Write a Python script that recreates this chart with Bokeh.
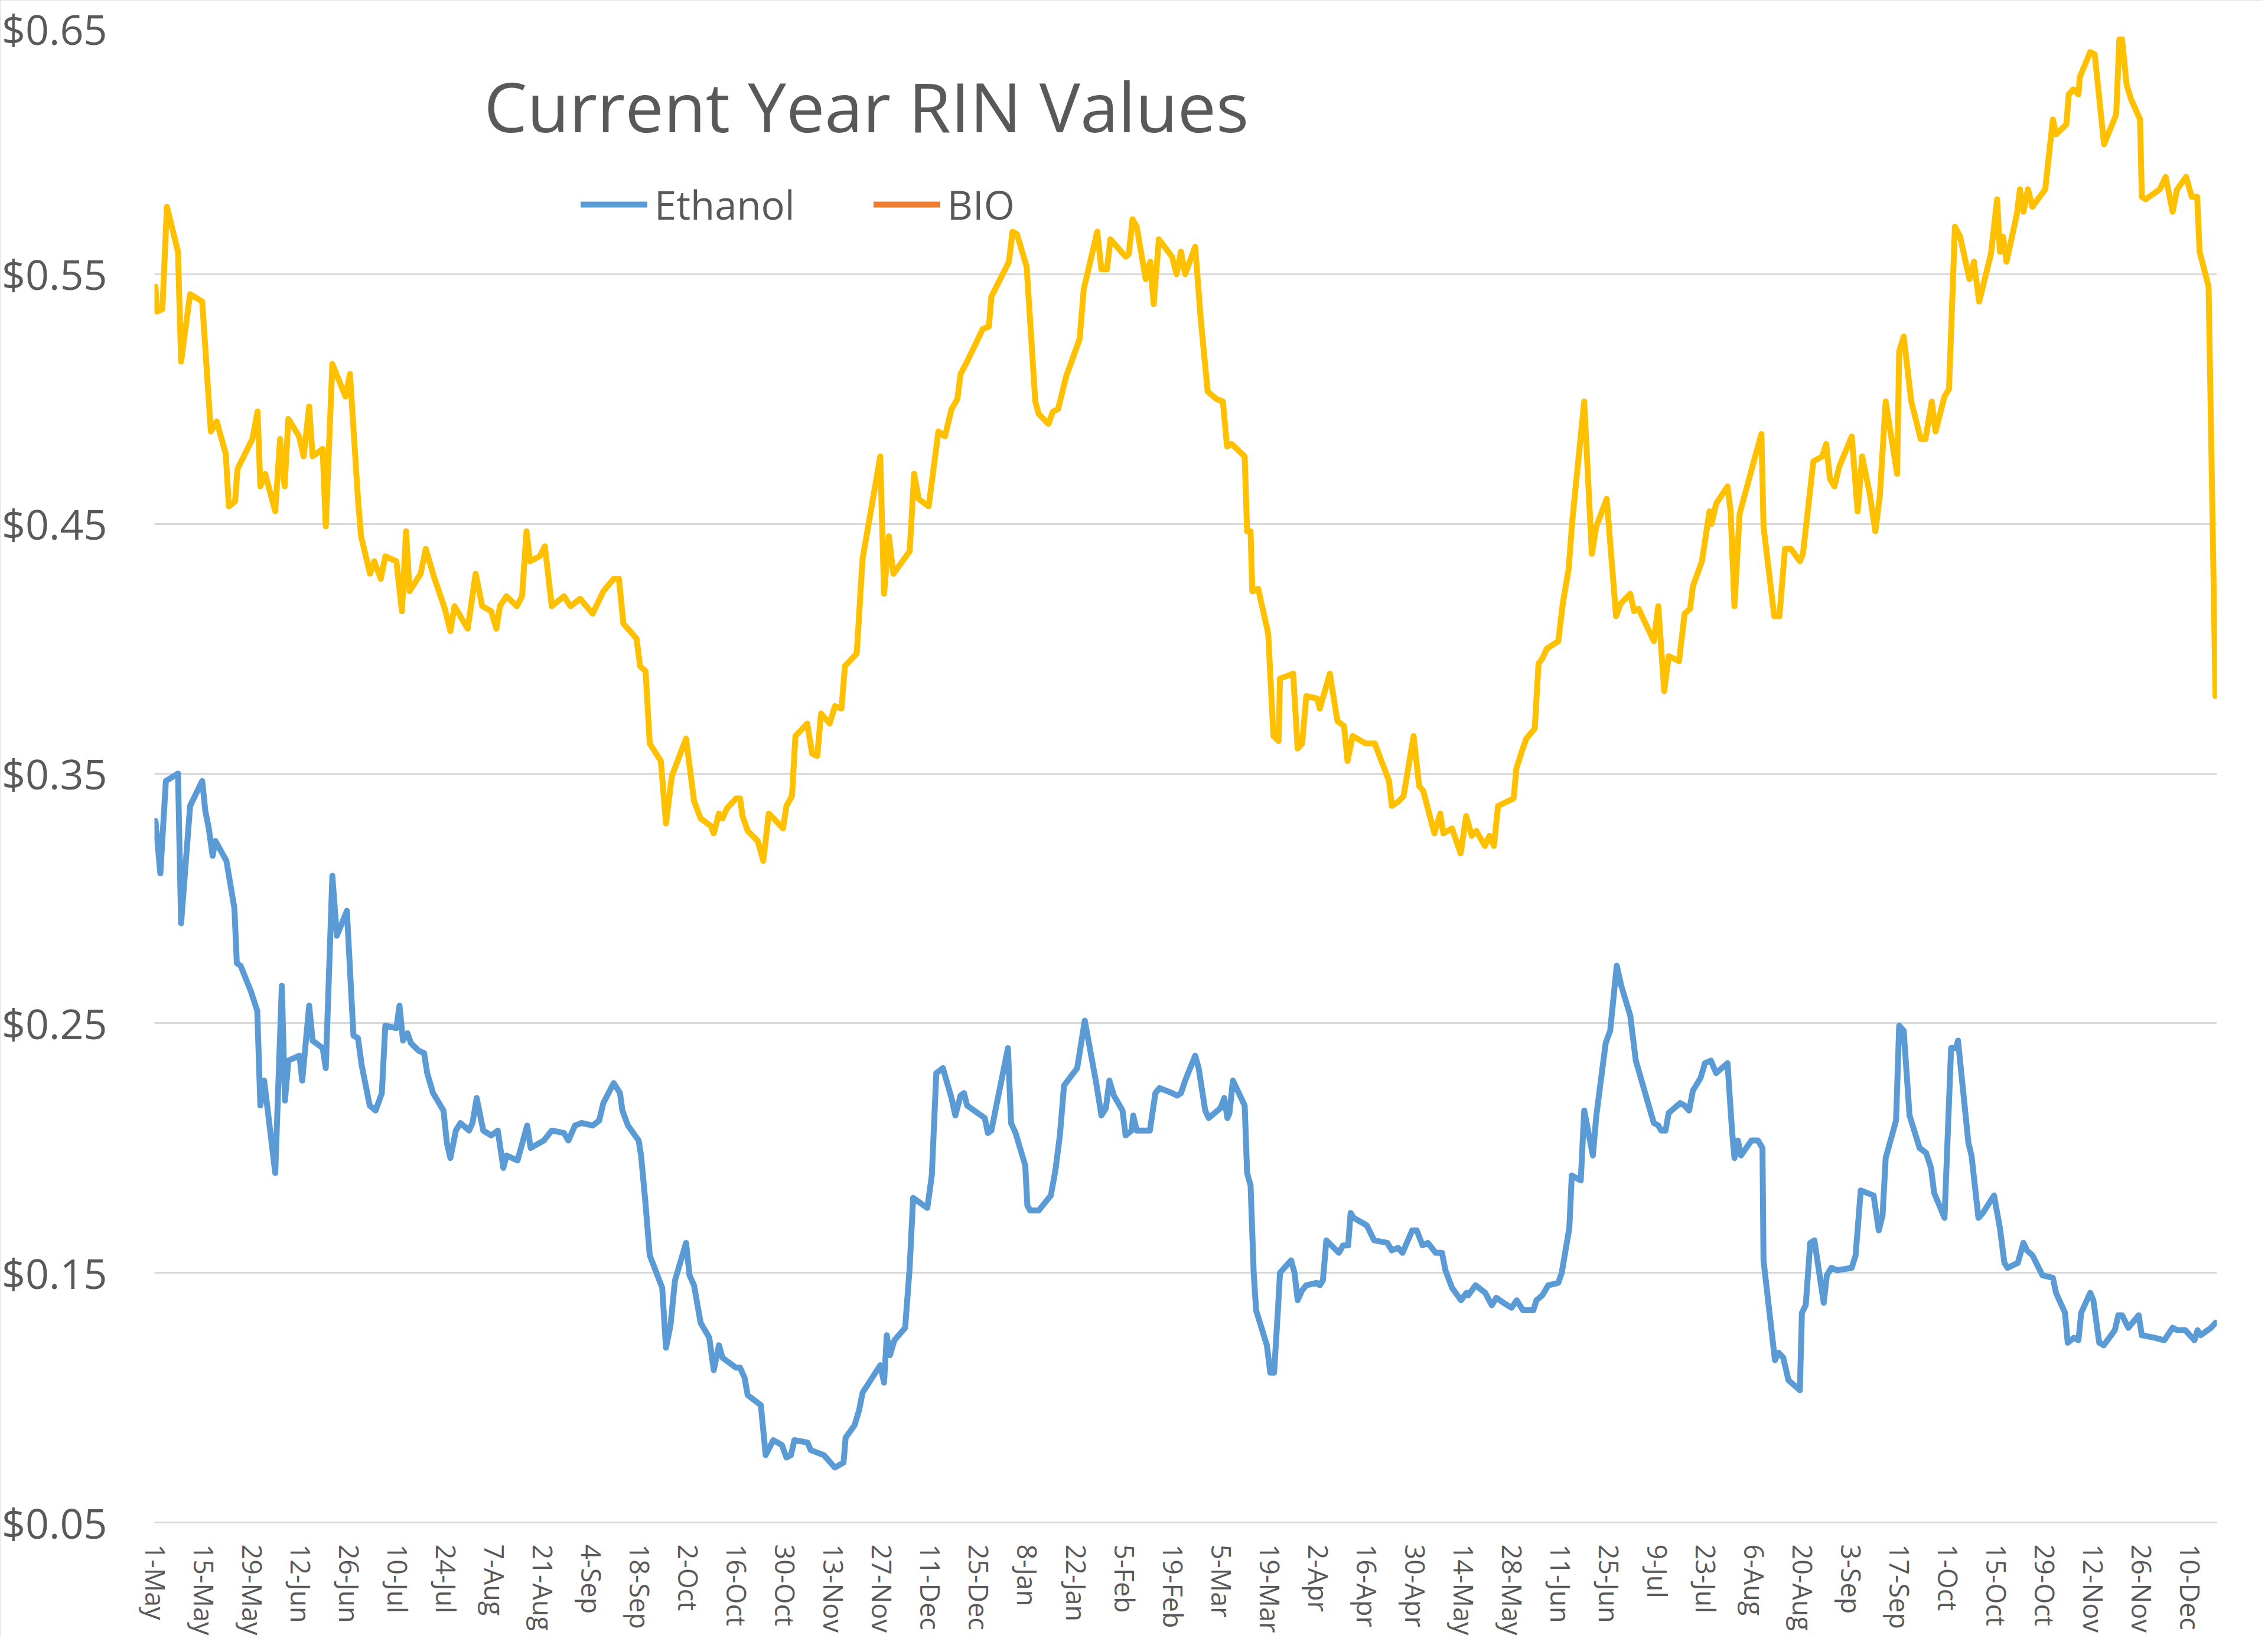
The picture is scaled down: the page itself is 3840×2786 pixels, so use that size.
from bokeh.plotting import figure
from bokeh.models import (Range1d, FixedTicker, NumeralTickFormatter, Legend, LegendItem,
                          Label)
from bokeh.embed import file_html
from bokeh.resources import INLINE

# ---- data (x = days since 1-May of the first year) ----
tick_days = [14 * k for k in range(43)]
tick_labels = ["1-May", "15-May", "29-May", "12-Jun", "26-Jun", "10-Jul", "24-Jul", "7-Aug",
               "21-Aug", "4-Sep", "18-Sep", "2-Oct", "16-Oct", "30-Oct", "13-Nov", "27-Nov",
               "11-Dec", "25-Dec", "8-Jan", "22-Jan", "5-Feb", "19-Feb", "5-Mar", "19-Mar",
               "2-Apr", "16-Apr", "30-Apr", "14-May", "28-May", "11-Jun", "25-Jun", "9-Jul",
               "23-Jul", "6-Aug", "20-Aug", "3-Sep", "17-Sep", "1-Oct", "15-Oct", "29-Oct",
               "12-Nov", "26-Nov", "10-Dec"]

bio_day = [0, 0.4, 2, 3.3, 6.5, 7.4, 10, 13.5, 16, 17.7, 20.3, 21.2, 23, 23.7, 28, 29.5, 30.3,
           31.7, 34.6, 36, 37.3, 38.4, 41.5, 42.8, 44.4, 45.4, 48.3, 49.2, 51.1, 54.9, 56.2,
           58.5, 59.4, 62, 63.2, 65.1, 66.4, 69.6, 71.2, 72.4, 73.4, 76.6, 78.1, 80.4, 83.6,
           85.2, 86.4, 90.2, 92.5, 94.4, 97, 98.5, 99.5, 101.4, 104.4, 105.9, 107.2, 108.2,
           111, 112.5, 113.5, 114.5, 118, 119.9, 122.7, 126.3, 129.4, 132.4, 133.9, 135.2,
           139, 140, 141.6, 142.8, 146, 147.5, 149.2, 153.3, 155.6, 157.5, 160.4, 161.3, 162.8,
           163.8, 165.1, 167.7, 168.9, 169.6, 171.1, 174, 175.6, 177.2, 181.3, 182.3, 183.9,
           184.9, 188.3, 189.7, 191.2, 192.3, 194.8, 196.3, 198.2, 199.2, 202.6, 204.3, 209.4,
           210.5, 211.9, 213.2, 217.9, 219.2, 220.5, 223.4, 224.7, 226.2, 228.1, 230, 231.7,
           232.6, 234.5, 239, 240.8, 241.5, 246.6, 247.6, 248.9, 251.7, 254.2, 255.2, 258,
           259.3, 260.8, 263.1, 267, 268.2, 272.1, 273.3, 274.9, 275.9, 280.3, 281.2, 282.3,
           283.5, 286.1, 287.4, 288.4, 289.9, 293.7, 295, 296.3, 297.5, 300.4, 302, 304, 306.5,
           308.4, 309.6, 310.9, 314.7, 315.4, 316.4, 316.9, 318.6, 321.5, 323, 324.5, 324.9,
           328.7, 330, 331.3, 332.5, 335.7, 336.4, 339.3, 341.5, 343.4, 344.4, 345.9, 349.7,
           352.3, 356.4, 357.2, 359.3, 360.6, 363.5, 365.1, 366.3, 369.5, 371.2, 372.1, 374.6,
           377.1, 378.7, 380.3, 381.6, 384.1, 385.4, 386.7, 387.9, 392.4, 393.2, 394.8, 396.1,
           398.5, 399.6, 400.7, 402, 405.3, 406.6, 408.3, 409.4, 412.8, 415, 416.3, 419.3, 422,
           423.3, 426.1, 427.2, 428.5, 432.9, 434.2, 435.9, 437.2, 440.2, 441.8, 443.4, 444.2,
           446.8, 449, 449.6, 450.9, 454.2, 455.1, 456.2, 457.7, 461.4, 464, 464.6, 467.7,
           469.2, 470.8, 472.5, 475.1, 476, 479, 481.6, 482.7, 483.8, 485.1, 486.5, 490.1,
           491.8, 493.1, 495.3, 496.9, 498.2, 499.9, 501.6, 503.2, 503.8, 505.1, 507.3, 510,
           511.4, 513.2, 514.3, 516.9, 518.2, 519.9, 521.4, 524.1, 525.4, 526.9, 530.3, 532.1,
           532.9, 533.8, 534.8, 537.8, 538.7, 539.7, 541, 542.3, 546, 548.2, 549.1, 552.1,
           552.8, 554.1, 555.6, 556, 559, 560.3, 563, 566.5, 567.4, 568.2, 569.5, 570.8, 573.4,
           573.9, 575, 579.1, 580.8, 582.8, 584.1, 586.7, 588.3, 589.9, 590.6, 593.2, 595.2]
bio_val = [0.545, 0.535, 0.536, 0.577, 0.559, 0.515, 0.542, 0.539, 0.487, 0.491, 0.478, 0.457,
           0.459, 0.472, 0.484, 0.495, 0.465, 0.470, 0.455, 0.484, 0.465, 0.492, 0.485, 0.477,
           0.497, 0.477, 0.480, 0.449, 0.514, 0.501, 0.510, 0.460, 0.445, 0.430, 0.435, 0.428,
           0.437, 0.435, 0.415, 0.447, 0.423, 0.430, 0.440, 0.429, 0.416, 0.407, 0.417, 0.408,
           0.430, 0.417, 0.415, 0.408, 0.417, 0.421, 0.417, 0.421, 0.447, 0.435, 0.437, 0.441,
           0.429, 0.417, 0.421, 0.417, 0.420, 0.414, 0.423, 0.428, 0.428, 0.410, 0.404, 0.393,
           0.391, 0.362, 0.355, 0.330, 0.349, 0.364, 0.339, 0.332, 0.329, 0.326, 0.334, 0.332,
           0.336, 0.340, 0.340, 0.333, 0.327, 0.323, 0.315, 0.334, 0.328, 0.337, 0.341, 0.365,
           0.370, 0.358, 0.357, 0.374, 0.370, 0.377, 0.376, 0.393, 0.398, 0.436, 0.477, 0.422,
           0.445, 0.430, 0.439, 0.470, 0.460, 0.457, 0.471, 0.487, 0.485, 0.496, 0.500, 0.510,
           0.515, 0.528, 0.529, 0.541, 0.555, 0.567, 0.566, 0.553, 0.499, 0.494, 0.490, 0.495,
           0.496, 0.509, 0.524, 0.544, 0.567, 0.552, 0.552, 0.564, 0.557, 0.558, 0.572, 0.569,
           0.548, 0.555, 0.538, 0.564, 0.557, 0.550, 0.559, 0.550, 0.561, 0.532, 0.503, 0.500,
           0.499, 0.481, 0.482, 0.477, 0.447, 0.447, 0.423, 0.424, 0.406, 0.365, 0.363, 0.388,
           0.390, 0.360, 0.362, 0.381, 0.380, 0.376, 0.390, 0.371, 0.369, 0.355, 0.365, 0.362,
           0.362, 0.347, 0.337, 0.339, 0.341, 0.365, 0.345, 0.343, 0.326, 0.334, 0.326, 0.328,
           0.318, 0.333, 0.325, 0.327, 0.321, 0.325, 0.321, 0.337, 0.340, 0.352, 0.359, 0.364,
           0.368, 0.394, 0.396, 0.400, 0.403, 0.418, 0.432, 0.452, 0.499, 0.438, 0.449, 0.460,
           0.413, 0.418, 0.422, 0.415, 0.416, 0.403, 0.417, 0.383, 0.397, 0.395, 0.414, 0.416,
           0.425, 0.435, 0.455, 0.450, 0.458, 0.465, 0.455, 0.417, 0.454, 0.473, 0.486, 0.449,
           0.413, 0.413, 0.440, 0.440, 0.435, 0.438, 0.475, 0.477, 0.482, 0.468, 0.465, 0.473,
           0.485, 0.455, 0.477, 0.462, 0.447, 0.461, 0.499, 0.484, 0.470, 0.519, 0.525, 0.499,
           0.484, 0.484, 0.499, 0.487, 0.501, 0.504, 0.569, 0.565, 0.548, 0.555, 0.539, 0.558,
           0.580, 0.559, 0.565, 0.555, 0.574, 0.584, 0.575, 0.584, 0.577, 0.584, 0.612, 0.606,
           0.610, 0.622, 0.624, 0.622, 0.629, 0.639, 0.638, 0.602, 0.614, 0.644, 0.644, 0.626,
           0.620, 0.612, 0.581, 0.580, 0.584, 0.589, 0.575, 0.584, 0.589, 0.581, 0.581, 0.559,
           0.545, 0.381]

eth_day = [0, 1.4, 3, 6.5, 7.4, 10, 13.5, 14.4, 15.4, 16.5, 17.3, 20.5, 22.8, 23.5, 24.6, 27.5,
           29.4, 30.3, 31.4, 34.6, 36.5, 37.4, 38.4, 41.6, 42.4, 44.4, 45.4, 48.3, 49.2, 51.1,
           52.4, 55.3, 57.2, 58.5, 59.6, 61.9, 63.6, 65.4, 66.4, 69.6, 70.5, 71.5, 72.8, 73.8,
           76, 77.6, 78.5, 80.2, 83.2, 84.2, 85.2, 86.8, 88.1, 90.6, 91.6, 92.8, 94.7, 97, 98.9,
           100.5, 101.4, 104.6, 107.4, 108.4, 112.2, 114.5, 118, 119.3, 121.2, 123.1, 126.3,
           128.2, 129.4, 132.4, 134.2, 134.9, 136.5, 139.6, 140.3, 141.5, 142.8, 146.4, 147.5,
           148.8, 150.1, 153.3, 154.3, 155.6, 157.5, 160, 161.3, 162.8, 163.8, 167.7, 168.9,
           170.2, 171.1, 174.9, 176.3, 178.5, 181, 182.3, 183.6, 184.6, 188.4, 189.3, 191.2,
           193.1, 196.3, 198.8, 199.4, 202, 203.3, 204.3, 209.4, 210.5, 211.3, 212.2, 213.5,
           216.6, 217.9, 218.9, 223, 224.3, 225.6, 227.5, 230, 231.1, 232.6, 233.6, 234.5,
           239.6, 240.5, 241.5, 246.3, 247.2, 248.5, 251.3, 251.9, 252.7, 255.2, 258.7, 260,
           261.3, 262.5, 266.3, 268.5, 271.8, 273.3, 274.6, 275.6, 276.9, 279.4, 280.3, 282,
           282.5, 283.5, 287.3, 288.9, 290.1, 293.7, 295.2, 296.3, 297.5, 300.4, 301.4, 303.3,
           304.3, 307.7, 308.8, 309.7, 310.3, 311.3, 314.7, 315.4, 316.4, 317.3, 318, 321.1,
           322.1, 323.2, 324.3, 324.9, 328.1, 329.1, 330, 331.3, 332.5, 335.5, 336.4, 337.3,
           338.3, 341.9, 343.1, 344.6, 345.3, 346.2, 350, 352.1, 355.9, 357.2, 359, 360.3,
           363.1, 364.4, 366.1, 367.6, 369.9, 371.7, 372.7, 374.6, 377.2, 378.8, 379.3, 381.4,
           384.2, 386.1, 387.4, 389.5, 391.8, 393.3, 395.1, 398.1, 399, 400.7, 402.4, 405.3,
           406.3, 408.5, 409.2, 411.8, 412.8, 415.3, 416.3, 419, 420.3, 422.2, 423.5, 426.1,
           427.7, 432.9, 434.2, 435, 436.3, 437.2, 440.5, 441.8, 443.1, 444.2, 446.4, 447.7,
           449.4, 450.9, 454.2, 455.5, 456.2, 457.2, 458.1, 461.1, 463, 464.3, 464.6, 467.9,
           469, 470.3, 471.8, 475.1, 475.7, 476.8, 478.1, 479.3, 482, 482.9, 484.2, 485.9,
           490.1, 491.2, 492.7, 496.4, 497.9, 499, 499.9, 502.9, 503.8, 505.1, 506.8, 509.7,
           511.6, 513, 513.9, 516.9, 518.8, 520.2, 520.8, 523.8, 524.7, 526.7, 528, 531.2,
           532.9, 534.2, 535.1, 538.1, 539.7, 540.7, 542.3, 545.2, 548.2, 549.1, 551.7, 552.5,
           554.3, 555.6, 556.4, 559, 559.9, 561.6, 562.9, 566.1, 567.1, 568.2, 570, 573, 573.9,
           577.6, 580.4, 582.8, 584.1, 586.5, 589.1, 590, 590.9, 593.9, 595.2]
eth_val = [0.331, 0.310, 0.347, 0.350, 0.290, 0.337, 0.347, 0.335, 0.328, 0.317, 0.323, 0.315,
           0.296, 0.274, 0.273, 0.263, 0.255, 0.217, 0.227, 0.190, 0.265, 0.219, 0.235, 0.237,
           0.227, 0.257, 0.243, 0.240, 0.232, 0.309, 0.285, 0.295, 0.245, 0.244, 0.233, 0.217,
           0.215, 0.222, 0.249, 0.248, 0.257, 0.243, 0.246, 0.242, 0.239, 0.238, 0.230, 0.222,
           0.215, 0.202, 0.196, 0.207, 0.210, 0.207, 0.210, 0.220, 0.207, 0.205, 0.207, 0.192,
           0.197, 0.195, 0.209, 0.200, 0.203, 0.207, 0.206, 0.203, 0.209, 0.210, 0.209, 0.211,
           0.218, 0.226, 0.222, 0.215, 0.209, 0.203, 0.197, 0.179, 0.157, 0.144, 0.120, 0.129,
           0.147, 0.162, 0.149, 0.145, 0.130, 0.124, 0.111, 0.121, 0.116, 0.112, 0.112, 0.108,
           0.101, 0.097, 0.077, 0.083, 0.081, 0.076, 0.077, 0.083, 0.082, 0.079, 0.078, 0.077,
           0.072, 0.074, 0.084, 0.089, 0.095, 0.102, 0.113, 0.106, 0.125, 0.117, 0.123, 0.128,
           0.152, 0.180, 0.176, 0.189, 0.230, 0.232, 0.220, 0.213, 0.221, 0.222, 0.217, 0.212,
           0.206, 0.207, 0.240, 0.210, 0.206, 0.193, 0.177, 0.175, 0.175, 0.181, 0.191, 0.205,
           0.225, 0.232, 0.251, 0.226, 0.213, 0.216, 0.227, 0.221, 0.215, 0.205, 0.207, 0.213,
           0.207, 0.207, 0.222, 0.224, 0.222, 0.221, 0.222, 0.227, 0.237, 0.232, 0.215, 0.212,
           0.216, 0.220, 0.212, 0.214, 0.227, 0.217, 0.190, 0.185, 0.150, 0.135, 0.121, 0.110,
           0.110, 0.135, 0.150, 0.155, 0.150, 0.139, 0.143, 0.145, 0.146, 0.145, 0.147, 0.163,
           0.158, 0.161, 0.161, 0.174, 0.172, 0.169, 0.163, 0.162, 0.159, 0.160, 0.158, 0.167,
           0.167, 0.161, 0.162, 0.158, 0.158, 0.151, 0.144, 0.139, 0.142, 0.141, 0.145, 0.142,
           0.137, 0.140, 0.138, 0.136, 0.139, 0.135, 0.135, 0.139, 0.141, 0.145, 0.146, 0.150,
           0.168, 0.189, 0.187, 0.215, 0.197, 0.213, 0.242, 0.247, 0.273, 0.265, 0.253, 0.235,
           0.210, 0.209, 0.207, 0.207, 0.214, 0.218, 0.217, 0.215, 0.223, 0.228, 0.234, 0.235,
           0.230, 0.234, 0.207, 0.196, 0.203, 0.197, 0.203, 0.203, 0.200, 0.155, 0.115, 0.118,
           0.116, 0.107, 0.103, 0.134, 0.137, 0.162, 0.163, 0.138, 0.149, 0.152, 0.151, 0.152,
           0.157, 0.183, 0.181, 0.167, 0.173, 0.196, 0.211, 0.249, 0.247, 0.213, 0.200, 0.198,
           0.192, 0.182, 0.172, 0.240, 0.240, 0.243, 0.202, 0.197, 0.172, 0.174, 0.181, 0.168,
           0.154, 0.152, 0.154, 0.162, 0.159, 0.157, 0.149, 0.148, 0.142, 0.134, 0.122, 0.124,
           0.123, 0.134, 0.142, 0.139, 0.122, 0.121, 0.127, 0.133, 0.133, 0.128, 0.133, 0.125,
           0.124, 0.123, 0.128, 0.127, 0.127, 0.123, 0.127, 0.125, 0.128, 0.130]

y_ticks = [0.05, 0.15, 0.25, 0.35, 0.45, 0.55, 0.65]

ETH_COLOR = "#5B9BD5"
BIO_COLOR = "#FFC000"
BIO_LEGEND_COLOR = "#ED7D31"
TEXT_COLOR = "#595959"
GRID_COLOR = "#D9D9D9"
FONT = "Open Sans"

p = figure(frame_width=3492, frame_height=2537, output_backend="svg", toolbar_location=None,
           x_range=Range1d(-0.3, 595.6), y_range=Range1d(0.05, 0.65),
           min_border_left=254, min_border_right=78, min_border_top=41, min_border_bottom=192)
p.background_fill_color = "white"
p.border_fill_color = "white"
p.outline_line_color = None
p.styles = {"outline": "4px solid #D9D9D9", "outline-offset": "-4px"}

eth = p.line(eth_day, eth_val, line_color=ETH_COLOR, line_width=10,
             line_join="round", line_cap="round")
bio = p.line(bio_day, bio_val, line_color=BIO_COLOR, line_width=10,
             line_join="round", line_cap="round")
# legend key for BIO (the reference legend shows an orange key); kept outside the visible range
bio_key = p.line(x=[-50, -40], y=[0.0, 0.0], line_color=BIO_LEGEND_COLOR, line_width=10,
                 line_cap="round")

# axes
p.xgrid.visible = False
p.ygrid.ticker = FixedTicker(ticks=y_ticks)
p.ygrid.grid_line_color = GRID_COLOR
p.ygrid.grid_line_width = 3

p.yaxis.ticker = FixedTicker(ticks=y_ticks)
p.yaxis.formatter = NumeralTickFormatter(format="$0.00")
p.yaxis.axis_line_color = None
p.yaxis.major_tick_line_color = None
p.yaxis.minor_tick_line_color = None
p.yaxis.major_label_standoff = 74
p.yaxis.major_label_text_font = FONT
p.yaxis.major_label_text_font_size = "70px"
p.yaxis.major_label_text_color = TEXT_COLOR

p.xaxis.ticker = FixedTicker(ticks=tick_days)
p.xaxis.major_label_overrides = {d: lab for d, lab in zip(tick_days, tick_labels)}
p.xaxis.major_label_orientation = "vertical"
p.xaxis.axis_line_color = GRID_COLOR
p.xaxis.axis_line_width = 3
p.xaxis.major_tick_line_color = None
p.xaxis.minor_tick_line_color = None
p.xaxis.major_label_standoff = 31
p.xaxis.major_label_text_font = FONT
p.xaxis.major_label_text_font_size = "45px"
p.xaxis.major_label_text_color = TEXT_COLOR

legend = Legend(items=[LegendItem(label="Ethanol", renderers=[eth]),
                       LegendItem(label="BIO", renderers=[bio_key])],
                orientation="horizontal", location=(722, 2186),
                glyph_width=113, glyph_height=70, label_height=70, label_standoff=12,
                spacing=133, padding=0, margin=0,
                border_line_color=None, background_fill_alpha=0,
                label_text_font=FONT, label_text_font_size="67px",
                label_text_color=TEXT_COLOR)
p.add_layout(legend)

title = Label(x=558, y=2400, x_units="screen", y_units="screen",
              text="Current Year RIN Values", text_font=FONT, text_font_size="116px",
              text_color=TEXT_COLOR, text_baseline="alphabetic")
p.add_layout(title)

open("out.html", "w").write(file_html(p, INLINE))
